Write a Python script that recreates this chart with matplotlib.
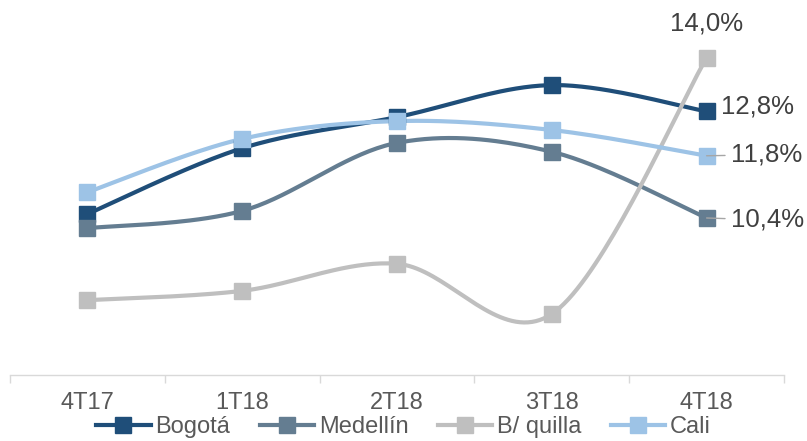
import numpy as np
import matplotlib

matplotlib.use("Agg")
import matplotlib.pyplot as plt

plt.rcParams["font.family"] = ["Liberation Sans", "DejaVu Sans"]

quarters = ["4T17", "1T18", "2T18", "3T18", "4T18"]
bogota = [10.49, 11.97, 12.67, 13.39, 12.8]
medellin = [10.17, 10.56, 12.09, 11.89, 10.4]
barranquilla = [8.55, 8.76, 9.37, 8.24, 14.0]
cali = [10.98, 12.18, 12.58, 12.38, 11.8]

series = [
    ("Bogotá", bogota, "#1F4E79"),
    ("Medellín", medellin, "#647D91"),
    ("B/ quilla", barranquilla, "#BFBFBF"),
    ("Cali", cali, "#9DC3E6"),
]

# offsets (pixels) of the end-of-line value labels
label_offsets = {
    "Bogotá": (14, 5, "left"),
    "Medellín": (24, -2, "left"),
    "B/ quilla": (0, 34, "center"),
    "Cali": (24, 1, "left"),
}


def smooth(x, y, n=40):
    """Bezier smoothing through every point, like a spreadsheet 'smoothed line'."""
    pts = np.column_stack([x, y]).astype(float)
    padded = np.vstack([pts[0], pts, pts[-1]])
    t = np.linspace(0, 1, n)[:, None]
    out = []
    for i in range(len(pts) - 1):
        p0, p3 = padded[i + 1], padded[i + 2]
        c1 = p0 + (padded[i + 2] - padded[i]) / 6
        c2 = p3 - (padded[i + 3] - padded[i + 1]) / 6
        seg = ((1 - t) ** 3) * p0 + 3 * ((1 - t) ** 2) * t * c1 + 3 * (1 - t) * t**2 * c2 + t**3 * p3
        out.append(seg if i == 0 else seg[1:])
    out = np.vstack(out)
    return out[:, 0], out[:, 1]


fig = plt.figure(figsize=(8.07, 4.41), dpi=100)
ax = fig.add_axes([10 / 807, 66 / 441, 774 / 807, 375 / 441])

x = np.arange(len(quarters))
handles = []
for name, values, color in series:
    sx, sy = smooth(x, values)
    ax.plot(sx, sy, color=color, lw=3, solid_capstyle="round", zorder=2)
    ax.plot(x, values, ls="none", marker="s", ms=12, color=color, zorder=3)
    h, = ax.plot([], [], color=color, lw=3, marker="s", ms=11)
    handles.append(h)

    dx, dy, ha = label_offsets[name]
    last = values[-1]
    arrow = None
    if dx > 20:
        arrow = dict(arrowstyle="-", color="#A6A6A6", lw=1, shrinkA=2, shrinkB=0)
    ax.annotate(
        f"{last:.1f}%".replace(".", ","),
        xy=(x[-1], last),
        xytext=(dx, dy),
        textcoords="offset pixels",
        ha=ha,
        va="center",
        fontsize=18.5,
        color="#404040",
        arrowprops=arrow,
        zorder=4,
    )

ax.set_xlim(-0.5, len(quarters) - 0.5)
ax.set_ylim(6.867, 15.305)
ax.set_xticks(x)
ax.set_xticklabels(quarters)
ax.set_xticks(np.arange(len(quarters) + 1) - 0.5, minor=True)
ax.tick_params(axis="x", which="major", length=0, pad=12, labelsize=17, labelcolor="#595959")
ax.tick_params(axis="x", which="minor", length=6, color="#D9D9D9", width=1)
ax.set_yticks([])
for side in ("top", "left", "right"):
    ax.spines[side].set_visible(False)
ax.spines["bottom"].set_color("#D9D9D9")
ax.spines["bottom"].set_linewidth(1)
ax.patch.set_visible(False)

fig.legend(
    handles,
    [s[0] for s in series],
    loc="center",
    bbox_to_anchor=(0.5, 14 / 441),
    ncol=4,
    frameon=False,
    fontsize=17,
    labelcolor="#595959",
    handlelength=2.3,
    handletextpad=0.2,
    columnspacing=1.25,
    borderaxespad=0,
)

fig.savefig("out.png", dpi=100)
